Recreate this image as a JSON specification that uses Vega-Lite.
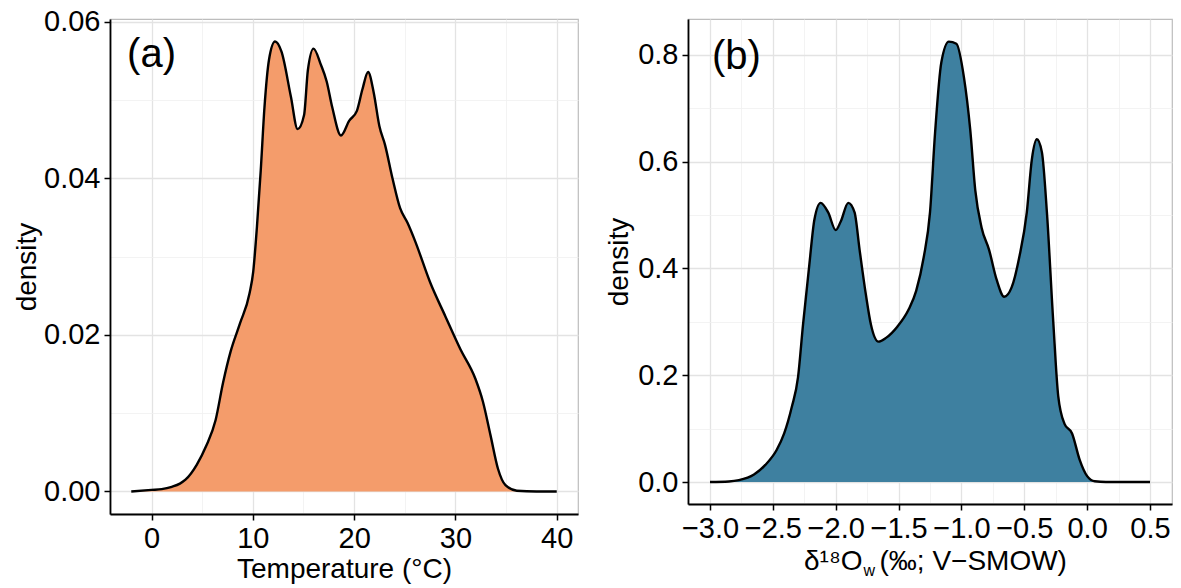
{
  "$schema": "https://vega.github.io/schema/vega-lite/v6.json",
  "padding": {"left": 12, "top": 7, "right": 5, "bottom": 5},
  "spacing": 25,
  "config": {
    "font": "Liberation Sans",
    "view": {"stroke": "#bdbdbd", "strokeWidth": 1.2},
    "axis": {
      "domainColor": "black", "domainWidth": 1.8,
      "tickColor": "black", "tickWidth": 1.5, "tickSize": 6,
      "labelFont": "Liberation Sans", "labelFontSize": 29, "labelColor": "black", "labelPadding": 4,
      "labelOverlap": false, "labelFlush": false,
      "titleFont": "Liberation Sans", "titleFontSize": 28, "titleFontWeight": "normal", "titleColor": "black"
    }
  },
  "datasets": {
    "temp": [
      {"T": -2, "density": 0}, {"T": 0, "density": 0.0002}, {"T": 1, "density": 0.0003}, {"T": 2, "density": 0.0006},
      {"T": 2.8, "density": 0.001}, {"T": 3.35, "density": 0.0015}, {"T": 4.46, "density": 0.0034}, {"T": 5.39, "density": 0.0058},
      {"T": 6.32, "density": 0.0091}, {"T": 7.06, "density": 0.0139}, {"T": 7.81, "density": 0.0179}, {"T": 8.74, "density": 0.0215},
      {"T": 9.67, "density": 0.0253}, {"T": 10.04, "density": 0.0281}, {"T": 10.41, "density": 0.0339}, {"T": 10.78, "density": 0.041},
      {"T": 11.15, "density": 0.0491}, {"T": 11.6, "density": 0.0552}, {"T": 12.19, "density": 0.0575}, {"T": 12.83, "density": 0.0562},
      {"T": 13.75, "density": 0.0505}, {"T": 14.42, "density": 0.0463}, {"T": 15.06, "density": 0.0481}, {"T": 15.43, "density": 0.0538},
      {"T": 15.99, "density": 0.0566}, {"T": 16.73, "density": 0.0545}, {"T": 17.29, "density": 0.0524}, {"T": 17.84, "density": 0.0491},
      {"T": 18.7, "density": 0.0455}, {"T": 19.52, "density": 0.0474}, {"T": 20.26, "density": 0.0486}, {"T": 20.82, "density": 0.0514},
      {"T": 21.38, "density": 0.0536}, {"T": 21.93, "density": 0.051}, {"T": 22.49, "density": 0.0467}, {"T": 23.05, "density": 0.0443},
      {"T": 23.79, "density": 0.04}, {"T": 24.54, "density": 0.0362}, {"T": 25.28, "density": 0.0343}, {"T": 26.02, "density": 0.032},
      {"T": 27.51, "density": 0.0267}, {"T": 29.0, "density": 0.0224}, {"T": 30.48, "density": 0.0182}, {"T": 31.97, "density": 0.0144},
      {"T": 32.71, "density": 0.0115}, {"T": 33.46, "density": 0.0072}, {"T": 34.2, "density": 0.0029}, {"T": 34.94, "density": 0.0008},
      {"T": 36.06, "density": 0.0001}, {"T": 38, "density": 0}, {"T": 40, "density": 0}
    ],
    "d18o": [
      {"d18O": -3.0, "density": 0}, {"d18O": -2.85, "density": 0.001}, {"d18O": -2.77, "density": 0.0035}, {"d18O": -2.65, "density": 0.014},
      {"d18O": -2.56, "density": 0.032}, {"d18O": -2.47, "density": 0.06}, {"d18O": -2.41, "density": 0.091}, {"d18O": -2.35, "density": 0.14},
      {"d18O": -2.3, "density": 0.196}, {"d18O": -2.26, "density": 0.295}, {"d18O": -2.21, "density": 0.407}, {"d18O": -2.17, "density": 0.491},
      {"d18O": -2.12, "density": 0.523}, {"d18O": -2.06, "density": 0.505}, {"d18O": -2.0, "density": 0.472}, {"d18O": -1.96, "density": 0.488},
      {"d18O": -1.9, "density": 0.523}, {"d18O": -1.85, "density": 0.505}, {"d18O": -1.81, "density": 0.435}, {"d18O": -1.76, "density": 0.351},
      {"d18O": -1.72, "density": 0.295}, {"d18O": -1.66, "density": 0.263}, {"d18O": -1.6, "density": 0.27}, {"d18O": -1.51, "density": 0.291},
      {"d18O": -1.42, "density": 0.323}, {"d18O": -1.36, "density": 0.358}, {"d18O": -1.3, "density": 0.421}, {"d18O": -1.25, "density": 0.505},
      {"d18O": -1.21, "density": 0.653}, {"d18O": -1.16, "density": 0.786}, {"d18O": -1.1, "density": 0.825}, {"d18O": -1.04, "density": 0.821},
      {"d18O": -0.98, "density": 0.758}, {"d18O": -0.93, "density": 0.66}, {"d18O": -0.89, "density": 0.547}, {"d18O": -0.84, "density": 0.477},
      {"d18O": -0.78, "density": 0.435}, {"d18O": -0.72, "density": 0.379}, {"d18O": -0.66, "density": 0.347}, {"d18O": -0.6, "density": 0.365},
      {"d18O": -0.54, "density": 0.421}, {"d18O": -0.48, "density": 0.505}, {"d18O": -0.44, "density": 0.604}, {"d18O": -0.4, "density": 0.642},
      {"d18O": -0.36, "density": 0.618}, {"d18O": -0.32, "density": 0.505}, {"d18O": -0.27, "density": 0.302}, {"d18O": -0.23, "density": 0.161},
      {"d18O": -0.18, "density": 0.109}, {"d18O": -0.12, "density": 0.091}, {"d18O": -0.06, "density": 0.042}, {"d18O": 0.0, "density": 0.011},
      {"d18O": 0.06, "density": 0.0014}, {"d18O": 0.15, "density": 0}, {"d18O": 0.5, "density": 0}
    ],
    "labA": [{"x": 0, "y": 0.0558, "label": "(a)"}],
    "labB": [{"x": -2.79, "y": 0.797, "label": "(b)"}]
  },
  "hconcat": [
    {
      "width": 468,
      "height": 495,
      "layer": [
        {
          "data": {"name": "temp"},
          "mark": {"type": "area", "color": "#F49C6B", "interpolate": "monotone"},
          "encoding": {
            "x": {
              "field": "T", "type": "quantitative",
              "scale": {"domain": [-4.1, 42.1], "nice": false, "zero": false},
              "axis": {
                "values": [0, 5, 10, 15, 20, 25, 30, 35, 40],
                "format": "d",
                "labelExpr": "datum.value % 10 === 0 ? datum.label : ''",
                "gridColor": {"condition": {"test": "datum.value % 10 !== 0", "value": "#f0f0f0"}, "value": "#e3e3e3"},
                "gridWidth": {"condition": {"test": "datum.value % 10 !== 0", "value": 0.8}, "value": 1.3},
                "tickOpacity": {"condition": {"test": "datum.value % 10 !== 0", "value": 0}, "value": 1},
                "title": "Temperature (°C)",
                "titleY": 63, "titleBaseline": "alphabetic"
              }
            },
            "y": {
              "field": "density", "type": "quantitative",
              "scale": {"domain": [-0.00288, 0.06038], "nice": false, "zero": false},
              "axis": {
                "values": [0, 0.01, 0.02, 0.03, 0.04, 0.05, 0.06],
                "format": ".2f",
                "labelExpr": "round(datum.value * 100) % 2 === 0 ? datum.label : ''",
                "gridColor": {"condition": {"test": "round(datum.value * 100) % 2 === 1", "value": "#f0f0f0"}, "value": "#e3e3e3"},
                "gridWidth": {"condition": {"test": "round(datum.value * 100) % 2 === 1", "value": 0.8}, "value": 1.3},
                "tickOpacity": {"condition": {"test": "round(datum.value * 100) % 2 === 1", "value": 0}, "value": 1},
                "title": "density",
                "titleX": -83, "titleY": 247.5, "titleBaseline": "middle"
              }
            },
            "y2": {"datum": 0}
          }
        },
        {
          "data": {"name": "temp"},
          "mark": {"type": "line", "color": "black", "strokeWidth": 2.4, "interpolate": "monotone"},
          "encoding": {
            "x": {"field": "T", "type": "quantitative", "scale": {"domain": [-4.1, 42.1], "nice": false, "zero": false}},
            "y": {"field": "density", "type": "quantitative", "scale": {"domain": [-0.00288, 0.06038], "nice": false, "zero": false}}
          }
        },
        {
          "data": {"name": "labA"},
          "mark": {"type": "text", "fontSize": 40, "font": "Liberation Sans", "color": "black", "align": "center", "baseline": "middle"},
          "encoding": {
            "x": {"field": "x", "type": "quantitative", "scale": {"domain": [-4.1, 42.1], "nice": false, "zero": false}},
            "y": {"field": "y", "type": "quantitative", "scale": {"domain": [-0.00288, 0.06038], "nice": false, "zero": false}},
            "text": {"field": "label"}
          }
        }
      ]
    },
    {
      "width": 484,
      "height": 485,
      "resolve": {"axis": {"x": "independent"}},
      "layer": [
        {
          "data": {"name": "d18o"},
          "mark": {"type": "area", "color": "#3E80A0", "interpolate": "monotone"},
          "encoding": {
            "x": {
              "field": "d18O", "type": "quantitative",
              "scale": {"domain": [-3.175, 0.675], "nice": false, "zero": false},
              "axis": {
                "orient": "bottom",
                "values": [-3, -2.75, -2.5, -2.25, -2, -1.75, -1.5, -1.25, -1, -0.75, -0.5, -0.25, 0, 0.25, 0.5],
                "format": ".1f",
                "labelExpr": "abs(datum.value * 2 - round(datum.value * 2)) < 0.01 ? datum.label : ''",
                "gridColor": {"condition": {"test": "abs(datum.value * 2 - round(datum.value * 2)) > 0.01", "value": "#f0f0f0"}, "value": "#e3e3e3"},
                "gridWidth": {"condition": {"test": "abs(datum.value * 2 - round(datum.value * 2)) > 0.01", "value": 0.8}, "value": 1.3},
                "tickOpacity": {"condition": {"test": "abs(datum.value * 2 - round(datum.value * 2)) > 0.01", "value": 0}, "value": 1},
                "title": "δ¹⁸O",
                "titleX": 174, "titleY": 65, "titleAlign": "right", "titleBaseline": "alphabetic"
              }
            },
            "y": {
              "field": "density", "type": "quantitative",
              "scale": {"domain": [-0.0412, 0.8674], "nice": false, "zero": false},
              "axis": {
                "values": [0, 0.1, 0.2, 0.3, 0.4, 0.5, 0.6, 0.7, 0.8],
                "format": ".1f",
                "labelExpr": "round(datum.value * 10) % 2 === 0 ? datum.label : ''",
                "gridColor": {"condition": {"test": "round(datum.value * 10) % 2 === 1", "value": "#f0f0f0"}, "value": "#e3e3e3"},
                "gridWidth": {"condition": {"test": "round(datum.value * 10) % 2 === 1", "value": 0.8}, "value": 1.3},
                "tickOpacity": {"condition": {"test": "round(datum.value * 10) % 2 === 1", "value": 0}, "value": 1},
                "title": "density",
                "titleX": -68.5, "titleY": 242.5, "titleBaseline": "middle"
              }
            },
            "y2": {"datum": 0}
          }
        },
        {
          "data": {"name": "d18o"},
          "mark": {"type": "line", "color": "black", "strokeWidth": 2.4, "interpolate": "monotone"},
          "encoding": {
            "x": {
              "field": "d18O", "type": "quantitative",
              "scale": {"domain": [-3.175, 0.675], "nice": false, "zero": false},
              "axis": {
                "orient": "bottom",
                "title": "(‰; V−SMOW)", "labels": false, "ticks": false, "domain": false, "grid": false,
                "titleX": 191, "titleY": 65, "titleAlign": "left", "titleBaseline": "alphabetic"
              }
            },
            "y": {"field": "density", "type": "quantitative", "scale": {"domain": [-0.0412, 0.8674], "nice": false, "zero": false}}
          }
        },
        {
          "data": {"name": "labB"},
          "mark": {"type": "text", "fontSize": 40, "font": "Liberation Sans", "color": "black", "align": "center", "baseline": "middle"},
          "encoding": {
            "x": {
              "field": "x", "type": "quantitative",
              "scale": {"domain": [-3.175, 0.675], "nice": false, "zero": false},
              "axis": {
                "orient": "bottom",
                "title": "w", "labels": false, "ticks": false, "domain": false, "grid": false,
                "titleFontSize": 16, "titleX": 175, "titleY": 71, "titleAlign": "left", "titleBaseline": "alphabetic"
              }
            },
            "y": {"field": "y", "type": "quantitative", "scale": {"domain": [-0.0412, 0.8674], "nice": false, "zero": false}},
            "text": {"field": "label"}
          }
        }
      ]
    }
  ]
}
